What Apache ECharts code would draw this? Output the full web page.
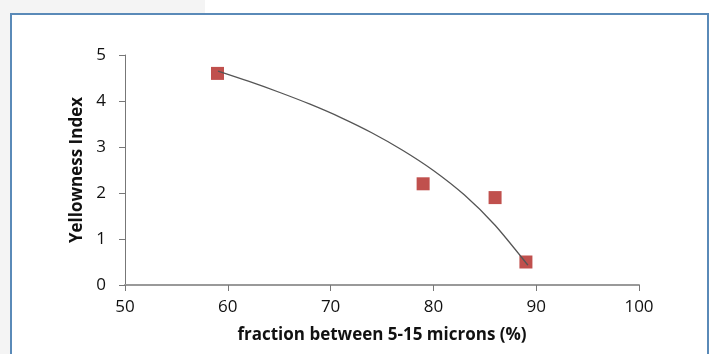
<!DOCTYPE html>
<html>
<head>
<meta charset="utf-8">
<script src="https://cdn.jsdelivr.net/npm/echarts@6/dist/echarts.min.js"></script>
<style>
  html, body { margin: 0; padding: 0; background: #ffffff; }
  #wrap { position: relative; width: 717px; height: 354px; overflow: hidden; }
  #bgTop { position: absolute; left: 0; top: 0; width: 205px; height: 14px; background: #f4f4f4; }
  #bgLeft { position: absolute; left: 0; top: 0; width: 10px; height: 354px; background: #f4f4f4; }
  #frame { position: absolute; left: 10px; top: 13px; width: 699px; height: 360px; border: 2px solid #5a8ab8; box-sizing: border-box; background: #fff; }
  #chart { position: absolute; left: 0; top: 0; width: 717px; height: 354px; }
</style>
</head>
<body>
<div id="wrap">
  <div id="bgTop"></div>
  <div id="bgLeft"></div>
  <div id="frame"></div>
  <div id="chart"></div>
</div>
<script>
// Measured data points
var fractionValues = [59, 79, 86, 89];
var yellownessValues = [4.6, 2.2, 1.9, 0.5];
// Trendline
var trendX = [59.05, 62, 65, 68, 71, 74, 77, 80, 83, 86, 89.2];
var trendY = [4.65, 4.43, 4.19, 3.93, 3.64, 3.31, 2.93, 2.49, 1.96, 1.30, 0.43];
// Axis settings
var xTicks = [50, 60, 70, 80, 90, 100];
var yTicks = [0, 1, 2, 3, 4, 5];
var xTitle = 'fraction between 5-15 microns (%)';
var yTitle = 'Yellowness Index';

var pts = fractionValues.map(function (x, i) { return [x, yellownessValues[i]]; });
var trend = trendX.map(function (x, i) { return [x, trendY[i]]; });

var chart = echarts.init(document.getElementById('chart'), null, { renderer: 'canvas' });
var font = '"Open Sans", sans-serif';
chart.setOption({
  animation: false,
  backgroundColor: 'transparent',
  grid: { left: 125, right: 78, top: 55, bottom: 69 },
  xAxis: {
    type: 'value', min: xTicks[0], max: xTicks[xTicks.length - 1], interval: 10,
    name: xTitle, nameLocation: 'middle', nameGap: 42,
    nameTextStyle: { fontFamily: font, fontWeight: 'bold', fontSize: 17, color: '#111' },
    axisLine: { show: true, lineStyle: { color: '#999', width: 2 } },
    axisTick: { show: true, length: 6, lineStyle: { color: '#777' } },
    axisLabel: { fontFamily: font, fontSize: 17, color: '#111', margin: 14 },
    splitLine: { show: false }
  },
  yAxis: {
    type: 'value', min: yTicks[0], max: yTicks[yTicks.length - 1], interval: 1,
    name: yTitle, nameLocation: 'middle', nameGap: 39, nameRotate: 90,
    nameTextStyle: { fontFamily: font, fontWeight: 'bold', fontSize: 17, color: '#111' },
    axisLine: { show: true, lineStyle: { color: '#777', width: 1 } },
    axisTick: { show: true, length: 6, lineStyle: { color: '#777' } },
    axisLabel: { fontFamily: font, fontSize: 17, color: '#111', margin: 19 },
    splitLine: { show: false }
  },
  series: [
    {
      type: 'line', data: trend, smooth: 0.3, showSymbol: false, symbol: 'none',
      lineStyle: { color: '#555', width: 1.3 }, z: 3
    },
    {
      type: 'scatter', data: pts, symbol: 'rect', symbolSize: 13,
      itemStyle: { color: '#c0504d', opacity: 1 }, z: 2
    }
  ]
});
</script>
</body>
</html>
